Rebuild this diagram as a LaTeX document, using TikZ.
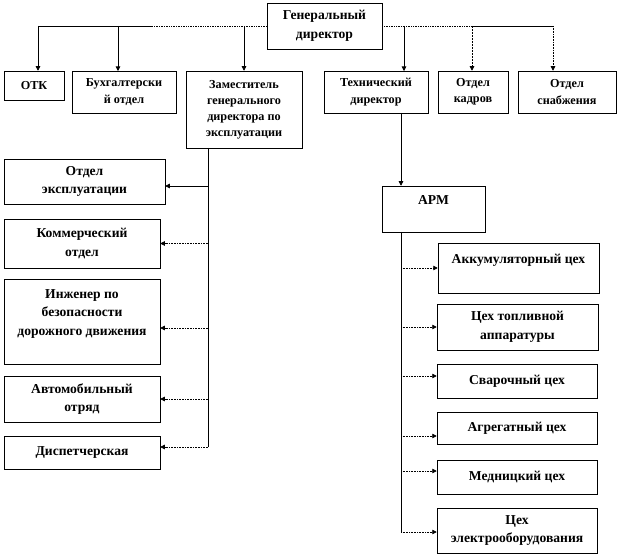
\documentclass[tikz,border=0pt]{standalone}
\usepackage{fontspec}
\setmainfont{Liberation Serif}
\usetikzlibrary{arrows.meta,shadows}
\begin{document}
\begin{tikzpicture}[x=1pt,y=-1pt,
  box/.style={draw=black,line width=0.5pt,fill=white,inner sep=1pt,align=center,
    font=\bfseries\fontsize{13.6}{18.5}\selectfont,
    drop shadow={shadow xshift=1.2pt,shadow yshift=-1.2pt,fill=gray!70,opacity=1}},
  sbox/.style={box,font=\bfseries\fontsize{12.2}{16.5}\selectfont},
  arr/.style={-{Triangle[length=4.5pt,width=4.5pt]},line width=0.6pt},
  dots/.style={densely dotted,line width=0.7pt},
  dsh/.style={dashed,dash pattern=on 2pt off 1pt,line width=0.7pt}]
\useasboundingbox (0,0) rectangle (619,556);
% top
\node[box,minimum width=115pt,minimum height=46pt] (gd) at (324.5,26) {Генеральный\\директор};
\node[sbox,minimum width=60pt,minimum height=29pt] (otk) at (34,85.5) {ОТК};
\node[sbox,minimum width=104pt,minimum height=42pt] (buh) at (124,92) {Бухгалтерски\\й отдел};
\node[sbox,minimum width=116pt,minimum height=77pt,font=\bfseries\fontsize{12.2}{16}\selectfont] (zam) at (244,109.5) {Заместитель\\генерального\\директора по\\эксплуатации};
\node[sbox,minimum width=104pt,minimum height=42pt] (tech) at (376,92) {Технический\\директор};
\node[sbox,minimum width=70pt,minimum height=42pt] (kadr) at (473,92) {Отдел\\кадров};
\node[sbox,minimum width=98pt,minimum height=42pt] (snab) at (567,92) {Отдел\\снабжения};
% left column
\node[box,minimum width=161pt,minimum height=45pt] (expl) at (84.5,181.5) {Отдел\\эксплуатации};
\node[box,minimum width=156pt,minimum height=49pt] (komm) at (82,243.5) {Коммерческий\\отдел};
\node[box,minimum width=156pt,minimum height=85pt] (inzh) at (82,321.5) {Инженер по\\безопасности\\дорожного  движения\\\mbox{}};
\node[box,minimum width=156pt,minimum height=46pt] (avto) at (82,399) {Автомобильный\\отряд};
\node[box,minimum width=156pt,minimum height=33pt] (disp) at (82,452.5) {Диспетчерская};
% right column
\node[box,minimum width=103pt,minimum height=46pt] (arm) at (433.5,209) {АРМ\\\mbox{}};
\node[box,minimum width=161pt,minimum height=50pt] (akk) at (518.5,268) {Аккумуляторный цех\\\mbox{}};
\node[box,minimum width=161pt,minimum height=46pt] (topl) at (517.5,327) {Цех топливной\\аппаратуры};
\node[box,minimum width=160pt,minimum height=34pt] (svar) at (517,381) {Сварочный цех};
\node[box,minimum width=160pt,minimum height=32pt] (agr) at (517,428) {Агрегатный цех};
\node[box,minimum width=160pt,minimum height=34pt] (medn) at (517,477) {Медницкий  цех};
\node[box,minimum width=160pt,minimum height=45pt] (elec) at (517,530.5) {Цех\\электрооборудования};
% bus coordinates
\coordinate (bl) at (38,26);
\coordinate (bm) at (152,26);
\coordinate (br) at (472,26);
\coordinate (be) at (553,26);
\draw[dots] (gd.west) -- (bm);
\draw[line width=0.6pt] (bm) -- (bl);
\draw[dots] (gd.east) -- (br);
\draw[line width=0.6pt] (br) -- (be);
\draw[arr] (bl) -- (bl |- otk.north);
\draw[arr] (118,26) -- (118,71);
\draw[arr] (zam.north |- bl) -- (zam.north);
\draw[arr] (404,26) -- (404,71);
\draw[arr,dsh] (br) -- (br |- kadr.north);
\draw[arr,dots] (be) -- (be |- snab.north);
% deputy branch
\coordinate (zt) at (208,148);
\coordinate (zb) at (208,447);
\draw[line width=0.6pt] (zt) -- (zb);
\draw[arr] (zt |- 0,186) -- (expl.east |- 0,186);
\draw[arr,dots] (zt |- komm.east) -- (komm.east);
\draw[arr,dots] (zt |- 0,328) -- (inzh.east |- 0,328);
\draw[arr,dots] (zt |- avto.east) -- (avto.east);
\draw[arr,dots] (zb) -- (disp.east |- zb);
% technical branch
\coordinate (tt) at (401,113);
\draw[arr] (tt) -- (tt |- arm.north);
\coordinate (at) at (401,232);
\coordinate (ab) at (401,532);
\draw[line width=0.6pt] (at) -- (ab);
\draw[arr,dots] (at |- akk.west) -- (akk.west);
\draw[arr,dots] (at |- topl.west) -- (topl.west);
\draw[arr,dots] (at |- 0,376) -- (svar.west |- 0,376);
\draw[arr,dots] (at |- 0,436) -- (agr.west |- 0,436);
\draw[arr,dots] (at |- 0,471) -- (medn.west |- 0,471);
\draw[arr,dots] (ab) -- (elec.west |- ab);
\end{tikzpicture}
\end{document}
